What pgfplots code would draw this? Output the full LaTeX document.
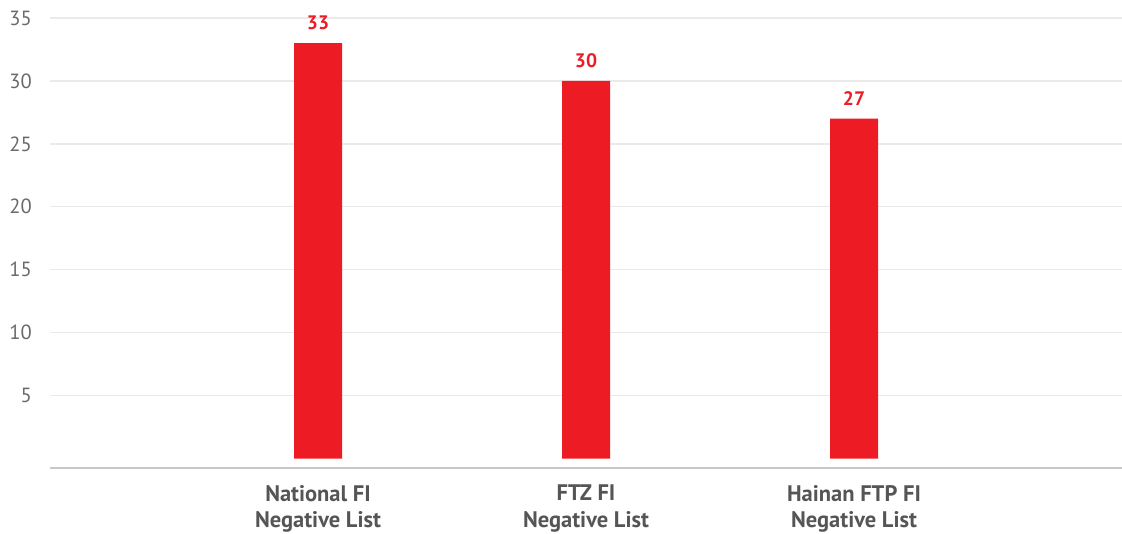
\documentclass[border=0pt]{standalone}
\usepackage{fontspec}
\setmainfont{PT Sans}
\usepackage{pgfplots}
\pgfplotsset{compat=1.18}
\usetikzlibrary{calc}
\definecolor{barred}{HTML}{ED1C24}
\definecolor{labelgray}{HTML}{555555}
\definecolor{tickgray}{HTML}{6A6A6A}
\definecolor{gridgray}{HTML}{EAEAEA}
\definecolor{axisgray}{HTML}{C8C8C8}
\begin{document}
\begin{tikzpicture}
\begin{axis}[
  width=1072pt, height=450pt, scale only axis,
  xmin=-1, xmax=3, ymin=-0.75, ymax=35,
  axis line style={draw=none},
  major tick length=0pt,
  ytick={5,10,15,20,25,30,35},
  ymajorgrids, grid style={draw=gridgray, line width=1.3pt},
  xtick={0,1,2},
  xticklabels={National FI\\Negative List, FTZ FI\\Negative List, Hainan FTP FI\\Negative List},
  xticklabel style={align=center, font=\bfseries\fontsize{22.5}{26.5}\selectfont, text=labelgray, inner sep=0pt, yshift=-17pt},
  yticklabel style={font=\fontsize{20.5}{24}\selectfont, text=tickgray, anchor=east, inner sep=0pt, xshift=-18pt},
  /pgf/number format/assume math mode=true,
  ybar, bar width=48pt,
  nodes near coords,
  nodes near coords style={font=\bfseries\fontsize{19.5}{22}\selectfont, text=barred, anchor=south, inner sep=0pt, yshift=13pt},
  clip=false,
]
\addplot[fill=barred, draw=none] coordinates {(0,33) (1,30) (2,27)};
\draw[axisgray, line width=2pt] (axis cs:-1,-0.75) -- (axis cs:3,-0.75);
\end{axis}
\pgfresetboundingbox
\path[use as bounding box] ($(current axis.south west)+(-50pt,-65pt)$) rectangle ($(current axis.north east)+(0pt,18pt)$);
\end{tikzpicture}
\end{document}
